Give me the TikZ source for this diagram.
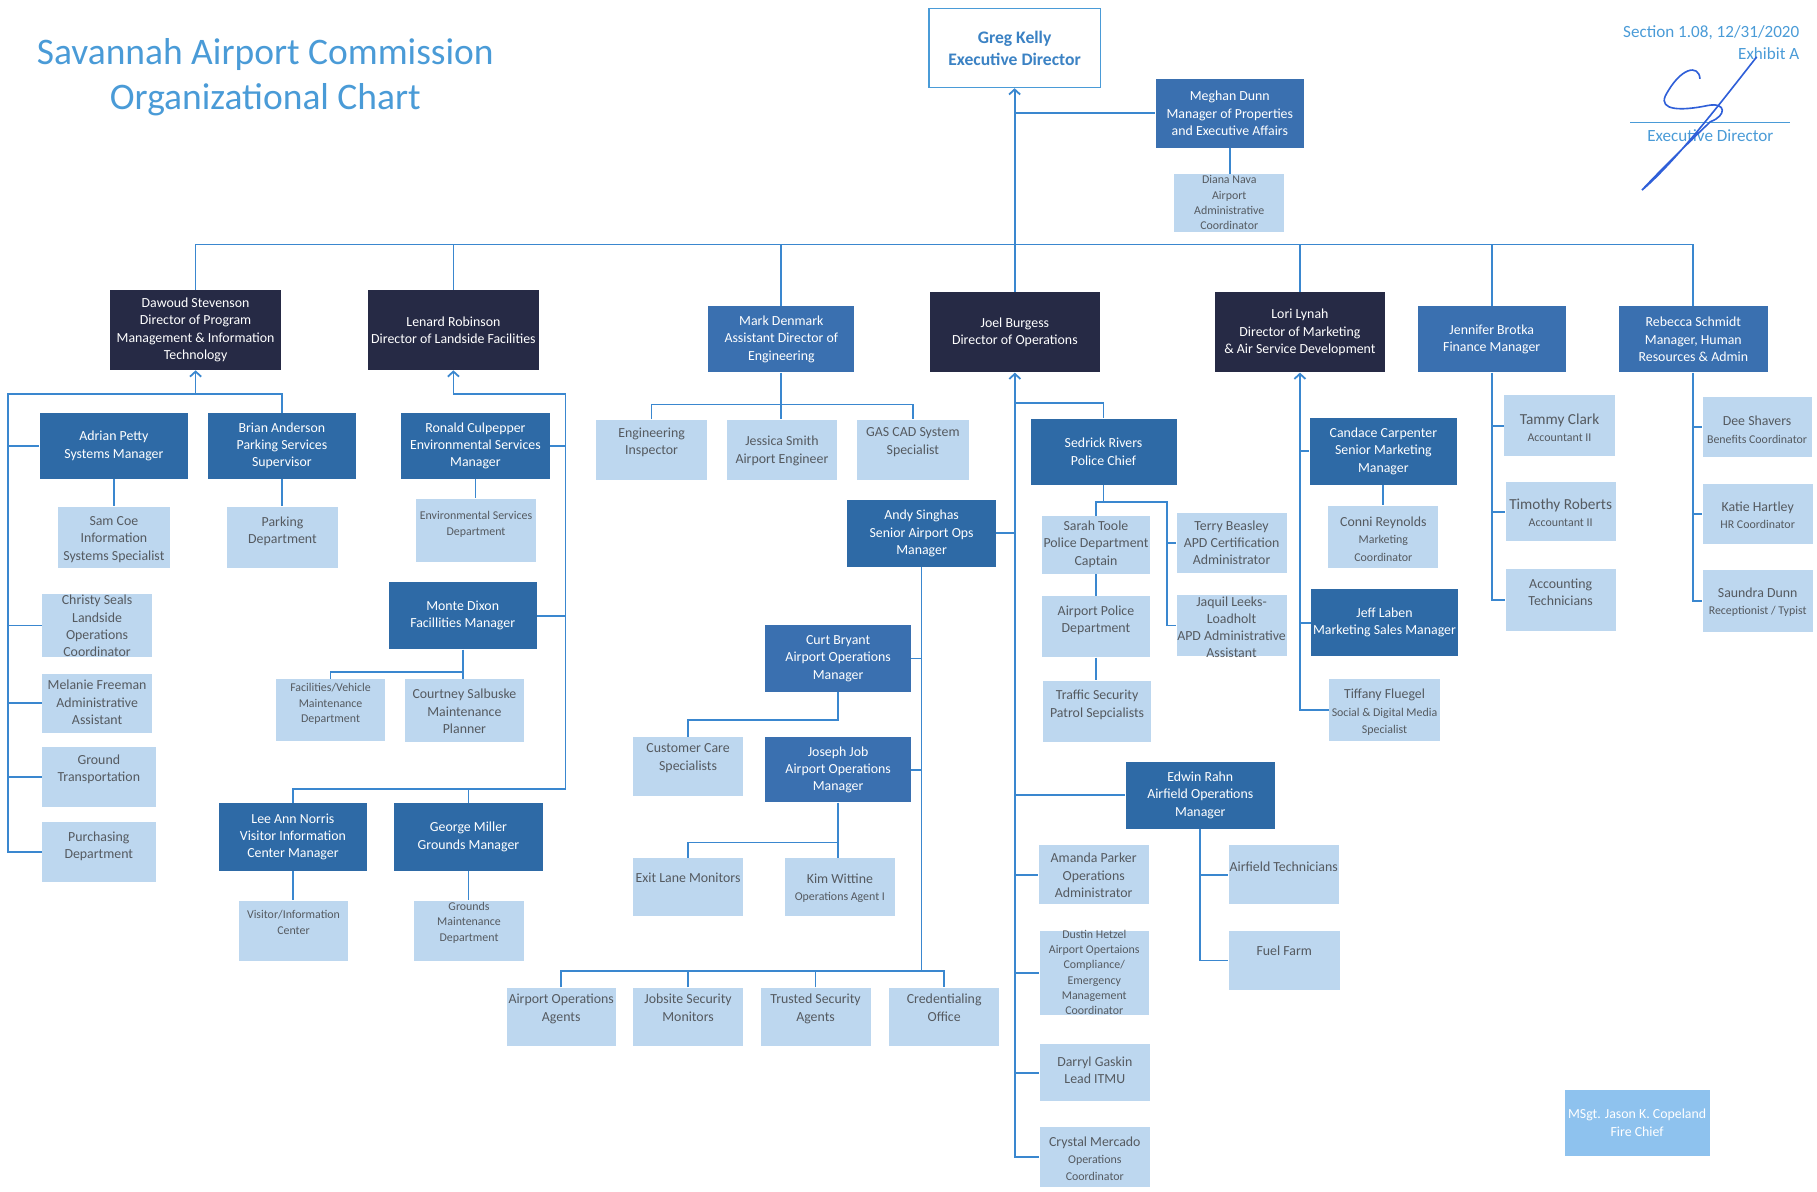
\documentclass[tikz,border=0pt]{standalone}
\usepackage{fontspec}
\setmainfont{Carlito}
\usetikzlibrary{arrows.meta}

\definecolor{navyBox}{HTML}{262A45}
\definecolor{mgrBox}{HTML}{2E6AA6}
\definecolor{headBox}{HTML}{3A70B0}
\definecolor{liteBox}{HTML}{BDD7EF}
\definecolor{liteText}{HTML}{555A60}
\definecolor{fireBox}{HTML}{8EC2EE}
\definecolor{linkBlue}{HTML}{3A87CF}
\definecolor{titleBlue}{HTML}{4A9BD7}
\definecolor{execText}{HTML}{3B82C4}
\definecolor{sigBlue}{HTML}{2F5FD8}

\newcommand\boxFont{\fontsize{8.5}{10.6}\selectfont}
\newcommand\smFont{\fontsize{7.3}{9.4}\selectfont}
\newcommand\bgFont{\fontsize{9.4}{11}\selectfont}
\newcommand\pxUnit{0.025cm}

\tikzset{
  sz/.style 2 args={minimum width=#1*\pxUnit, minimum height=#2*\pxUnit},
  box/.style={anchor=north west, align=center, text=white, font=\boxFont, inner sep=0.5pt},
  dark/.style={box, fill=navyBox},
  mgr/.style={box, fill=mgrBox},
  head/.style={box, fill=headBox},
  fire/.style={box, fill=fireBox},
  exec/.style={anchor=north west, align=center, draw=titleBlue, line width=0.8pt, fill=white,
    text=execText, font=\bfseries\fontsize{10.8}{13.5}\selectfont},
  lite/.style={anchor=north west, fill=liteBox, inner sep=0pt},
  ltxt/.style={anchor=north, yshift=#1, align=center, text=liteText, font=\boxFont, inner sep=1pt},
  ltxt/.default=-5pt,
  link/.style={draw=linkBlue, line width=1.1pt},
  caret/.style={{Straight Barb[length=1.1mm, width=2.4mm]}-},
  note/.style={text=titleBlue, font=\fontsize{10.5}{12.5}\selectfont, inner sep=0pt},
}

\begin{document}
\begin{tikzpicture}[x=\pxUnit, y=-\pxUnit]
  \useasboundingbox (0,0) rectangle (1568,1028);

  % heading and signature
  \node[text=titleBlue, align=center, font=\fontsize{23}{27.6}\selectfont] (title) at (229,67)
    {Savannah Airport Commission\\Organizational Chart};
  \node[note, anchor=east] (section) at (1553,28) {Section 1.08, 12/31/2020};
  \node[note, anchor=east] (exhibit) at (1553,46) {Exhibit A};
  \coordinate (sigL) at (1407,106);
  \coordinate (sigR) at (1545,106);
  \draw[titleBlue, line width=0.6pt] (sigL) -- (sigR);
  \node[note] (sigcap) at (1476,117) {Executive Director};
  \draw[sigBlue, line width=1pt] (1467,68) .. controls (1466,55) and (1450,58) .. (1437,83)
    .. controls (1432,95) and (1450,96) .. (1474,91)
    .. controls (1490,88) and (1490,100) .. (1476,105)
    .. controls (1455,125) and (1430,150) .. (1417,164)
    .. controls (1445,140) and (1480,95) .. (1516,49);

  % top level
  \node[exec, sz={148}{68}] (greg) at (801,7) {Greg Kelly\\Executive Director};
  \node[head, sz={128}{59}] (meghan) at (997,68) {Meghan Dunn\\Manager of Properties\\and Executive Affairs};
  \node[lite, sz={95}{50}, label={[ltxt=0pt, font=\smFont]north:{Diana Nava\\Airport\\Administrative\\Coordinator}}] (diana) at (1013,150) {};

  \node[dark, sz={147}{69}] (dawoud) at (95,250) {Dawoud Stevenson\\Director of Program\\Management \& Information\\Technology};
  \node[dark, sz={148}{69}] (lenard) at (317,250) {Lenard Robinson\\Director of Landside Facilities};
  \node[head, sz={126}{57}] (mark) at (611,264) {Mark Denmark\\Assistant Director of\\Engineering};
  \node[dark, sz={147}{69}] (joel) at (802,252) {Joel Burgess\\Director of Operations};
  \node[dark, sz={147}{69}] (lori) at (1048,252) {Lori Lynah\\Director of Marketing\\\& Air Service Development};
  \node[head, sz={128}{57}] (jennifer) at (1223,264) {Jennifer Brotka\\Finance Manager};
  \node[head, sz={128}{57}] (rebecca) at (1397,264) {Rebecca Schmidt\\Manager, Human\\Resources \& Admin};

  % program management & IT
  \node[mgr, sz={128}{57}] (adrian) at (34,356) {Adrian Petty\\Systems Manager};
  \node[mgr, sz={128}{57}] (brian) at (179,356) {Brian Anderson\\Parking Services\\Supervisor};
  \node[lite, sz={96}{53}, label={[ltxt]north:{Sam Coe\\Information\\Systems Specialist}}] (samcoe) at (50,437) {};
  \node[lite, sz={95}{53}, label={[ltxt]north:{Parking\\Department}}] (parking) at (196,437) {};
  \node[lite, sz={95}{55}, label={[ltxt=0pt]north:{Christy Seals\\Landside\\Operations\\Coordinator}}] (christy) at (36,512) {};
  \node[lite, sz={95}{51}, label={[ltxt=-3pt]north:{Melanie Freeman\\Administrative\\Assistant}}] (melanie) at (36,581) {};
  \node[lite, sz={98}{52}, label={[ltxt=-4pt]north:{Ground\\Transportation}}] (ground) at (36,644) {};
  \node[lite, sz={98}{52}, label={[ltxt]north:{Purchasing\\Department}}] (purch) at (36,709) {};

  % landside facilities
  \node[mgr, sz={128}{57}] (ronald) at (346,356) {Ronald Culpepper\\Environmental Services\\Manager};
  \node[lite, sz={103}{55}, label={[ltxt=-7pt, font=\smFont]north:{Environmental Services\\Department}}] (envdept) at (359,430) {};
  \node[mgr, sz={128}{58}] (monte) at (335,502) {Monte Dixon\\Facillities Manager};
  \node[lite, sz={94}{53}, label={[ltxt=-1.5pt, font=\smFont]north:{Facilities/Vehicle\\Maintenance\\Department}}] (facveh) at (238,586) {};
  \node[lite, sz={103}{54}, label={[ltxt]north:{Courtney Salbuske\\Maintenance\\Planner}}] (courtney) at (349,586) {};
  \node[mgr, sz={127}{58}] (norris) at (189,693) {Lee Ann Norris\\Visitor Information\\Center Manager};
  \node[mgr, sz={128}{58}] (miller) at (340,693) {George Miller\\Grounds Manager};
  \node[lite, sz={94}{52}, label={[ltxt=-5pt, font=\smFont]north:{Visitor/Information\\Center}}] (visitor) at (206,777) {};
  \node[lite, sz={95}{52}, label={[ltxt=0pt, font=\smFont]north:{Grounds\\Maintenance\\Department}}] (grounds) at (357,777) {};

  % engineering
  \node[lite, sz={96}{52}, label={[ltxt=-4pt]north:{Engineering\\Inspector}}] (engins) at (514,362) {};
  \node[lite, sz={95}{52}, label={[ltxt=-9pt]north:{Jessica Smith\\Airport Engineer}}] (jessica) at (627,362) {};
  \node[lite, sz={97}{52}, label={[ltxt=-4pt]north:{GAS CAD System\\Specialist}}] (gascad) at (739,362) {};

  % operations
  \node[mgr, sz={126}{57}] (sedrick) at (889,361) {Sedrick Rivers\\Police Chief};
  \node[lite, sz={93}{50}, label={[ltxt=-2pt]north:{Sarah Toole\\Police Department\\Captain}}] (sarah) at (899,445) {};
  \node[lite, sz={95}{52}, label={[ltxt=-4pt]north:{Terry Beasley\\APD Certification\\Administrator}}] (terry) at (1015,442) {};
  \node[lite, sz={93}{53}, label={[ltxt]north:{Airport Police\\Department}}] (apd) at (899,514) {};
  \node[lite, sz={95}{53}, label={[ltxt=0pt]north:{Jaquil Leeks-\\Loadholt\\APD Administrative\\Assistant}}] (jaquil) at (1015,513) {};
  \node[lite, sz={93}{53}, label={[ltxt]north:{Traffic Security\\Patrol Sepcialists}}] (traffic) at (900,587) {};

  \node[mgr, sz={128}{58}] (andy) at (731,431) {Andy Singhas\\Senior Airport Ops\\Manager};
  \node[head, sz={126}{58}] (curt) at (660,539) {Curt Bryant\\Airport Operations\\Manager};
  \node[lite, sz={95}{51}, label={[ltxt=-3pt]north:{Customer Care\\Specialists}}] (custcare) at (546,636) {};
  \node[head, sz={126}{56}] (joseph) at (660,636) {Joseph Job\\Airport Operations\\Manager};
  \node[lite, sz={95}{50}, label={[ltxt=-8pt]north:{Exit Lane Monitors}}] (exitlane) at (546,740) {};
  \node[lite, sz={95}{50}, label={[ltxt=-9pt]north:{Kim Wittine\\{\smFont Operations Agent I}}}] (kim) at (677,740) {};
  \node[lite, sz={94}{50}, label={[ltxt=-3pt]north:{Airport Operations\\Agents}}] (aoa) at (437,852) {};
  \node[lite, sz={95}{50}, label={[ltxt=-3pt]north:{Jobsite Security\\Monitors}}] (jobsite) at (546,852) {};
  \node[lite, sz={95}{50}, label={[ltxt=-3pt]north:{Trusted Security\\Agents}}] (trusted) at (656,852) {};
  \node[lite, sz={95}{50}, label={[ltxt=-3pt]north:{Credentialing\\Office}}] (cred) at (767,852) {};

  \node[mgr, sz={129}{58}] (edwin) at (971,657) {Edwin Rahn\\Airfield Operations\\Manager};
  \node[lite, sz={95}{51}, label={[ltxt=-4pt]north:{Amanda Parker\\Operations\\Administrator}}] (amanda) at (896,729) {};
  \node[lite, sz={94}{73}, label={[ltxt=1.5pt, font=\smFont]north:{Dustin Hetzel\\Airport Opertaions\\Compliance/\\Emergency\\Management\\Coordinator}}] (dustin) at (897,803) {};
  \node[lite, sz={95}{49}, label={[ltxt=-6.5pt]north:{Darryl Gaskin\\Lead ITMU}}] (darryl) at (897,901) {};
  \node[lite, sz={95}{52}, label={[ltxt]north:{Crystal Mercado\\{\smFont Operations}\\{\smFont Coordinator}}}] (crystal) at (897,972) {};
  \node[lite, sz={95}{51}, label={[ltxt=-9.5pt]north:{Airfield Technicians}}] (airtech) at (1060,729) {};
  \node[lite, sz={96}{51}, label={[ltxt=-8pt]north:{Fuel Farm}}] (fuel) at (1060,803) {};

  % marketing
  \node[mgr, sz={127}{58}] (candace) at (1130,360) {Candace Carpenter\\Senior Marketing\\Manager};
  \node[lite, sz={95}{54}, label={[ltxt=-6pt]north:{Conni Reynolds\\{\smFont Marketing}\\{\smFont Coordinator}}}] (conni) at (1146,436) {};
  \node[mgr, sz={127}{58}] (jeff) at (1131,508) {Jeff Laben\\Marketing Sales Manager};
  \node[lite, sz={95}{53}, label={[ltxt]north:{Tiffany Fluegel\\{\smFont Social \& Digital Media}\\{\smFont Specialist}}}] (tiffany) at (1147,586) {};

  % finance and HR
  \node[lite, sz={95}{52}, label={[ltxt=-10pt]north:{{\bgFont Tammy Clark}\\{\smFont Accountant II}}}] (tammy) at (1298,341) {};
  \node[lite, sz={95}{51}, label={[ltxt=-9pt]north:{{\bgFont Timothy Roberts}\\{\smFont Accountant II}}}] (timothy) at (1299,416) {};
  \node[lite, sz={95}{53}, label={[ltxt]north:{Accounting\\Technicians}}] (accttech) at (1299,491) {};
  \node[lite, sz={94}{52}, label={[ltxt=-11pt]north:{Dee Shavers\\{\smFont Benefits Coordinator}}}] (dee) at (1469,342) {};
  \node[lite, sz={95}{52}, label={[ltxt=-10pt]north:{Katie Hartley\\{\smFont HR Coordinator}}}] (katie) at (1469,417) {};
  \node[lite, sz={95}{53}, label={[ltxt=-9.5pt]north:{Saundra Dunn\\{\smFont Receptionist / Typist}}}] (saundra) at (1469,492) {};

  \node[fire, sz={125}{57}] (fire) at (1350,940) {MSgt. Jason K. Copeland\\Fire Chief};

  % connectors
  \coordinate (bus) at (0,211);
  \draw[link, caret] (greg.south) -- (greg.south |- joel.north);
  \draw[link] (greg.south |- meghan.west) -- (meghan.west);
  \draw[link] (meghan.south) -- (meghan.south |- diana.north);
  \draw[link] (dawoud.north) |- (rebecca.north |- bus) -- (rebecca.north);
  \foreach \n in {lenard,mark,lori,jennifer}
    \draw[link] (\n.north) -- (\n.north |- bus);

  \coordinate (dbus) at (7,340);
  \draw[link, caret] (dawoud.south) -- (dawoud.south |- dbus);
  \draw[link] (brian.north) |- (dbus) |- (purch.west);
  \foreach \n in {adrian,christy,melanie,ground}
    \draw[link] (dbus |- \n.west) -- (\n.west);
  \draw[link] (adrian.south) -- (adrian.south |- samcoe.north);
  \draw[link] (brian.south) -- (brian.south |- parking.north);

  \coordinate (lright) at (488,340);
  \coordinate (lbus) at (488,681);
  \draw[link, caret] (lenard.south) |- (lright) -- (lbus) -| (norris.north);
  \draw[link] (miller.north) -- (miller.north |- lbus);
  \draw[link] (lright |- ronald.east) -- (ronald.east);
  \draw[link] (lright |- monte.east) -- (monte.east);
  \draw[link] (ronald.south) -- (ronald.south |- envdept.north);
  \coordinate (mbus) at (0,580);
  \draw[link] (monte.south) -- (monte.south |- courtney.north);
  \draw[link] (monte.south |- mbus) -| (facveh.north);
  \draw[link] (norris.south) -- (norris.south |- visitor.north);
  \draw[link] (miller.south) -- (miller.south |- grounds.north);

  \coordinate (kbus) at (0,349);
  \draw[link] (mark.south) -- (mark.south |- jessica.north);
  \draw[link] (engins.north) |- (gascad.north |- kbus) -- (gascad.north);

  \coordinate (sbus) at (0,348);
  \draw[link, caret] (joel.south) |- (crystal.west);
  \foreach \n in {amanda,dustin,darryl,edwin}
    \draw[link] (joel.south |- \n.west) -- (\n.west);
  \draw[link] (joel.south |- andy.east) -- (andy.east);
  \draw[link] (joel.south |- sbus) -| (sedrick.north);

  \coordinate (sright) at (1007,433);
  \draw[link] (sedrick.south) -- (sedrick.south |- sright);
  \draw[link] (sarah.north) |- (sright) |- (jaquil.west);
  \draw[link] (sright |- terry.west) -- (terry.west);
  \draw[link] (sarah.south) -- (sarah.south |- apd.north);
  \draw[link] (apd.south) -- (apd.south |- traffic.north);

  \coordinate (abus) at (0,838);
  \draw[link] (andy.south) -- (andy.south |- abus);
  \draw[link] (aoa.north) |- (cred.north |- abus) -- (cred.north);
  \foreach \n in {jobsite,trusted}
    \draw[link] (\n.north) -- (\n.north |- abus);
  \draw[link] (andy.south |- curt.east) -- (curt.east);
  \draw[link] (andy.south |- joseph.east) -- (joseph.east);
  \coordinate (cbus) at (0,621);
  \draw[link] (curt.south) |- (custcare.north |- cbus) -- (custcare.north);
  \coordinate (jbus) at (0,727);
  \draw[link] (joseph.south) -- (joseph.south |- kim.north);
  \draw[link] (joseph.south |- jbus) -| (exitlane.north);

  \draw[link] (edwin.south) |- (fuel.west);
  \draw[link] (edwin.south |- airtech.west) -- (airtech.west);

  \draw[link, caret] (lori.south) |- (tiffany.west);
  \foreach \n in {candace,jeff}
    \draw[link] (lori.south |- \n.west) -- (\n.west);
  \draw[link] (candace.south) -- (candace.south |- conni.north);

  \draw[link] (jennifer.south) |- (accttech.west);
  \foreach \n in {tammy,timothy}
    \draw[link] (jennifer.south |- \n.west) -- (\n.west);
  \draw[link] (rebecca.south) |- (saundra.west);
  \foreach \n in {dee,katie}
    \draw[link] (rebecca.south |- \n.west) -- (\n.west);
\end{tikzpicture}
\end{document}
